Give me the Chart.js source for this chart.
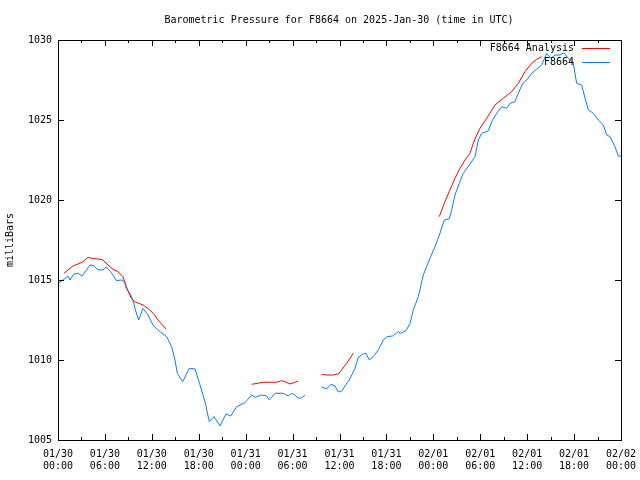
<!DOCTYPE html>
<html>
<head>
<meta charset="utf-8">
<title>Barometric Pressure</title>
<script src="https://cdn.jsdelivr.net/npm/chart.js@4/dist/chart.umd.min.js"></script>
<style>
    body { margin: 0; background: #ffffff; }
    canvas { display: block; }
</style>
</head>
<body>
<canvas id="pressure-chart" width="640" height="480"></canvas>
<script>
// hours since 01/30 00:00 UTC, null = gap in the record
const stationHours = [0, 0.77, 1.28, 1.53, 2.05, 2.56, 3.07, 3.58, 4.09, 4.6, 5.12, 5.75, 6.18, 6.61, 7.03, 7.46, 8.1, 8.53, 8.73, 9.17, 9.59, 9.89, 10.32, 10.87, 11.51, 12.15, 12.7, 13.04, 13.9, 14.54, 14.96, 15.26, 15.95, 16.79, 17.52, 18.16, 18.8, 19.35, 19.95, 20.72, 21.49, 22.09, 22.85, 23.91, 24.77, 25.19, 26.05, 26.69, 27.02, 27.75, 28.81, 29.45, 29.89, 30.31, 30.73, 31.17, 31.59, 32.6, 33.72, 34.36, 34.87, 35.42, 35.85, 36.28, 36.7, 37.25, 37.98, 38.4, 39.04, 39.39, 39.81, 40.32, 40.96, 41.6, 42.11, 42.8, 43.52, 43.83, 44.5, 45.02, 45.44, 46.08, 46.72, 47.57, 48.21, 48.85, 49.4, 50.04, 50.35, 50.77, 51.32, 51.83, 52.69, 53.33, 53.75, 54.19, 55.03, 55.46, 56.1, 56.74, 57.38, 57.8, 58.44, 58.87, 59.43, 59.94, 60.58, 61.22, 61.86, 62.5, 63.01, 63.56, 64.2, 64.71, 65.26, 65.9, 66.33, 66.97, 67.4, 67.82, 68.46, 69.1, 69.74, 70.17, 70.59, 71.23, 71.66, 72];
const stationPressure = [1014.79, 1015.04, 1015.25, 1015.0, 1015.38, 1015.42, 1015.25, 1015.58, 1015.94, 1015.88, 1015.63, 1015.63, 1015.83, 1015.58, 1015.31, 1014.96, 1015.0, 1014.89, 1014.48, 1014.17, 1013.75, 1013.13, 1012.5, 1013.23, 1012.81, 1012.19, 1011.92, 1011.77, 1011.46, 1010.83, 1010.0, 1009.17, 1008.64, 1009.48, 1009.44, 1008.44, 1007.39, 1006.14, 1006.46, 1005.88, 1006.63, 1006.5, 1007.08, 1007.33, 1007.81, 1007.67, 1007.81, 1007.75, 1007.5, 1007.92, 1007.92, 1007.75, 1007.92, 1007.81, 1007.61, 1007.64, 1007.81, null, 1008.33, 1008.19, 1008.48, 1008.38, 1008.0, 1008.06, 1008.38, 1008.75, 1009.48, 1010.17, 1010.38, 1010.42, 1010.0, 1010.21, 1010.63, 1011.25, 1011.46, 1011.5, 1011.77, 1011.67, 1011.83, 1012.29, 1013.13, 1013.96, 1015.31, 1016.36, 1017.08, 1017.92, 1018.75, 1018.83, 1019.38, 1020.31, 1021.04, 1021.67, 1022.25, 1022.71, 1023.75, 1024.17, 1024.33, 1024.89, 1025.42, 1025.83, 1025.73, 1026.04, 1026.14, 1026.67, 1027.29, 1027.5, 1027.92, 1028.17, 1028.44, 1029.17, 1028.86, 1029.06, 1029.06, 1029.21, 1028.86, 1028.54, 1027.29, 1027.19, 1026.36, 1025.63, 1025.42, 1025.0, 1024.69, 1024.06, 1023.96, 1023.33, 1022.75, 1022.75];

const analysisHours = [0.77, 1.28, 1.92, 2.56, 3.2, 3.84, 4.26, 5.12, 5.75, 6.39, 7.03, 7.67, 8.31, 8.73, 9.37, 9.81, 10.87, 11.73, 12.37, 12.79, 13.81, 19, 24.77, 26.26, 27.97, 28.61, 29.03, 29.67, 30.31, 30.73, 32.2, 33.72, 34.36, 35.21, 35.85, 36.28, 36.92, 37.76, 43, 48.76, 49.49, 50.13, 50.77, 51.41, 52.05, 52.69, 53.11, 53.55, 53.97, 54.83, 55.89, 56.95, 58.02, 58.87, 59.72, 60.58, 61.22, 61.86];
const analysisPressure = [1015.42, 1015.63, 1015.88, 1016.0, 1016.14, 1016.42, 1016.36, 1016.31, 1016.25, 1015.94, 1015.67, 1015.52, 1015.21, 1014.58, 1013.86, 1013.64, 1013.44, 1013.13, 1012.81, 1012.5, 1011.94, null, 1008.48, 1008.61, 1008.61, 1008.71, 1008.64, 1008.5, 1008.61, 1008.69, null, 1009.11, 1009.06, 1009.06, 1009.13, 1009.38, 1009.79, 1010.42, null, 1018.96, 1019.9, 1020.63, 1021.36, 1021.98, 1022.5, 1022.92, 1023.54, 1024.06, 1024.48, 1025.11, 1025.94, 1026.36, 1026.77, 1027.29, 1028.02, 1028.54, 1028.79, 1028.96];

const xTickLabels = [
    ['01/30', '00:00'], ['01/30', '06:00'], ['01/30', '12:00'], ['01/30', '18:00'],
    ['01/31', '00:00'], ['01/31', '06:00'], ['01/31', '12:00'], ['01/31', '18:00'],
    ['02/01', '00:00'], ['02/01', '06:00'], ['02/01', '12:00'], ['02/01', '18:00'],
    ['02/02', '00:00']
];
const yTickValues = [1005, 1010, 1015, 1020, 1025, 1030];

const monoFont = "'DejaVu Sans Mono', 'Liberation Mono', monospace";

function toPoints(hours, values) {
    return hours.map(function (h, i) { return { x: h, y: values[i] }; });
}

// gnuplot style frame: box, inward ticks on every side, title and legend
const framePlugin = {
    id: 'frame',
    afterDatasetsDraw(chart) {
        const ctx = chart.ctx;
        const area = chart.chartArea;
        const xs = chart.scales.x;
        const ys = chart.scales.y;
        ctx.save();
        ctx.strokeStyle = '#000000';
        ctx.lineWidth = 1;
        ctx.beginPath();
        for (let h = 0; h <= 72; h += 3) {
            const px = Math.round(xs.getPixelForValue(h)) + 0.5;
            const len = (h % 6 === 0) ? 6 : 3;
            ctx.moveTo(px, area.bottom);
            ctx.lineTo(px, area.bottom - len);
            ctx.moveTo(px, area.top);
            ctx.lineTo(px, area.top + len);
        }
        yTickValues.forEach(function (v) {
            const py = Math.round(ys.getPixelForValue(v)) + 0.5;
            ctx.moveTo(area.left, py);
            ctx.lineTo(area.left + 6, py);
            ctx.moveTo(area.right, py);
            ctx.lineTo(area.right - 6, py);
        });
        ctx.stroke();
        ctx.strokeRect(Math.round(area.left) + 0.5, Math.round(area.top) + 0.5,
            Math.round(area.right - area.left), Math.round(area.bottom - area.top));

        // legend, top right inside the plot
        ctx.font = '10px ' + monoFont;
        ctx.textAlign = 'right';
        ctx.textBaseline = 'middle';
        chart.data.datasets.forEach(function (ds, i) {
            const ly = 48.5 + i * 14;
            ctx.fillStyle = '#000000';
            ctx.fillText(ds.label, 574, ly);
            ctx.strokeStyle = ds.borderColor;
            ctx.beginPath();
            ctx.moveTo(582, ly);
            ctx.lineTo(610, ly);
            ctx.stroke();
        });

        // title
        ctx.fillStyle = '#000000';
        ctx.textAlign = 'center';
        ctx.fillText('Barometric Pressure for F8664 on 2025-Jan-30 (time in UTC)', 339, 20);
        ctx.restore();
    }
};

const data = {
    datasets: [{
        label: 'F8664 Analysis',
        borderColor: 'rgb(255, 0, 0)',
        data: toPoints(analysisHours, analysisPressure),
    }, {
        label: 'F8664',
        borderColor: 'rgb(0, 128, 255)',
        data: toPoints(stationHours, stationPressure),
    }]
};

const config = {
    type: 'line',
    data: data,
    plugins: [framePlugin],
    options: {
        responsive: false,
        animation: false,
        spanGaps: false,
        layout: {
            padding: { top: 40, right: 19, left: 0, bottom: 0 }
        },
        elements: {
            point: { radius: 0 },
            line: { borderWidth: 1, tension: 0 }
        },
        scales: {
            x: {
                type: 'linear',
                min: 0,
                max: 72,
                afterFit: function (scale) {
                    scale.height = 40;
                    scale.paddingLeft = 0;
                    scale.paddingRight = 0;
                },
                grid: { display: false, drawTicks: false },
                border: { display: false },
                ticks: {
                    stepSize: 6,
                    padding: 8,
                    maxRotation: 0,
                    color: '#000000',
                    font: { family: monoFont, size: 10, lineHeight: 1.2 },
                    callback: function (value) { return xTickLabels[value / 6]; }
                }
            },
            y: {
                min: 1005,
                max: 1030,
                afterFit: function (scale) {
                    scale.width = 58;
                    scale.paddingTop = 0;
                    scale.paddingBottom = 0;
                },
                grid: { display: false, drawTicks: false },
                border: { display: false },
                ticks: {
                    stepSize: 5,
                    padding: 6,
                    color: '#000000',
                    font: { family: monoFont, size: 10 },
                    callback: function (value) { return String(value); }
                },
                title: {
                    display: true,
                    text: 'milliBars',
                    color: '#000000',
                    padding: { top: 4, bottom: 0 },
                    font: { family: monoFont, size: 10 }
                }
            }
        },
        plugins: {
            legend: { display: false },
            tooltip: { enabled: false }
        }
    }
};

var context = document.getElementById('pressure-chart').getContext('2d');

new Chart(
    context,
    config
);
</script>
</body>
</html>
